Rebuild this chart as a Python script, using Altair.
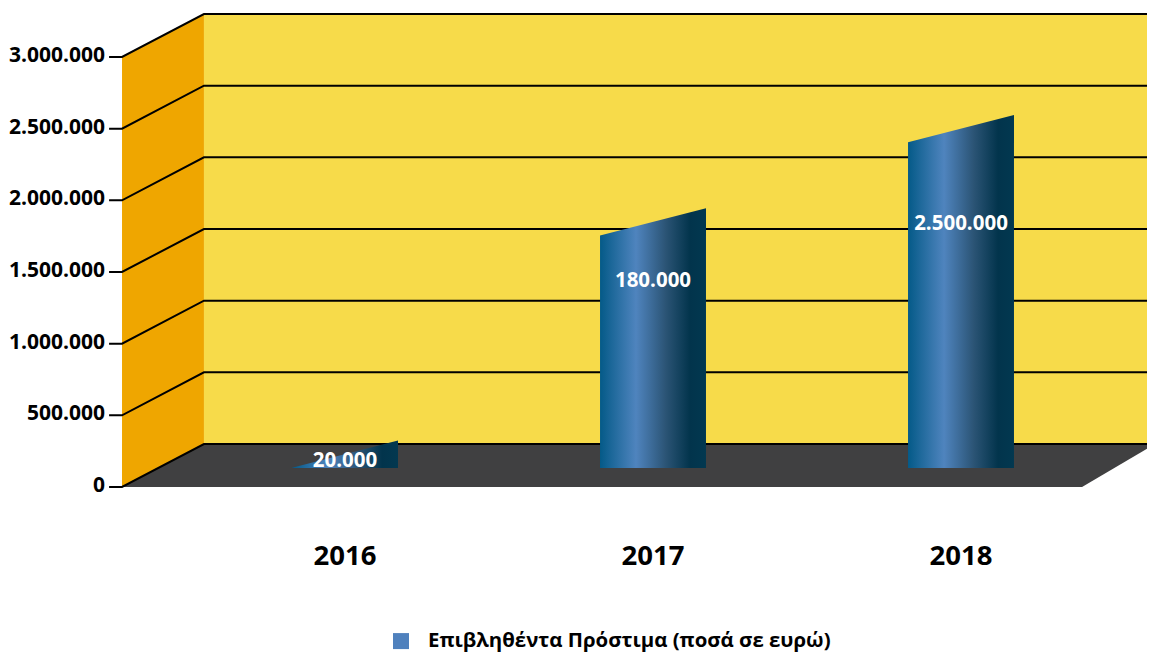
import altair as alt
import pandas as pd

# ---- chart values -------------------------------------------------------
years = ["2016", "2017", "2018"]
bar_heights = [230000, 1850000, 2500000]   # drawn heights
bar_labels = ["20.000", "180.000", "2.500.000"]
tick_values = [0, 500000, 1000000, 1500000, 2000000, 2500000, 3000000]
tick_labels = ["0", "500.000", "1.000.000", "1.500.000", "2.000.000", "2.500.000", "3.000.000"]
legend_label = "Επιβληθέντα Πρόστιμα (ποσά σε ευρώ)"

# ---- scene geometry, in data units (category index / euros) --------------
FRONT_L, BACK_L = -0.724, -0.458
FRONT_R, BACK_R = 2.393, 2.63
DEPTH = 300000
TOP = 3000000
BAR_HALF = 0.172
BAR_BASE = 132000
SLOPE = 95000
TICK_L = -0.766

W, H = 1139, 644
x_scale = alt.Scale(domain=[-1.0942, 2.6039], range=[0, W], nice=False, zero=False)
y_scale = alt.Scale(domain=[-1151163, 3341860], range=[H, 0], nice=False, zero=False)
X = lambda f="x": alt.X(f"{f}:Q", scale=x_scale, axis=None)
Y = lambda f="y": alt.Y(f"{f}:Q", scale=y_scale, axis=None)
FONT = "Open Sans"


def area(points, color):
    df = pd.DataFrame(points, columns=["x", "y", "y2"])
    return alt.Chart(df).mark_area(color=color, clip=True, interpolate="linear").encode(
        x=X(), y=Y(), y2=alt.Y2("y2:Q"))


back_wall = area([(BACK_L, DEPTH, DEPTH + TOP), (BACK_R, DEPTH, DEPTH + TOP)], "#F7DB4A")
left_wall = area([(FRONT_L, 0, TOP), (BACK_L, DEPTH, DEPTH + TOP)], "#EFA600")
floor = area([(FRONT_L, 0, 0), (BACK_L, DEPTH, 0), (FRONT_R, DEPTH, 0), (BACK_R, DEPTH, DEPTH)], "#404041")

grid_rows = []
for i, v in enumerate(tick_values):
    grid_rows += [
        {"g": i, "o": 0, "x": TICK_L, "y": v},
        {"g": i, "o": 1, "x": FRONT_L, "y": v},
        {"g": i, "o": 2, "x": BACK_L, "y": v + DEPTH},
        {"g": i, "o": 3, "x": BACK_R, "y": v + DEPTH},
    ]
grid = alt.Chart(pd.DataFrame(grid_rows)).mark_line(color="#000000", strokeWidth=2, clip=True).encode(
    x=X(), y=Y(), detail="g:N", order="o:Q")

gradient = alt.Gradient(
    gradient="linear", x1=0, y1=0, x2=1, y2=0,
    stops=[
        alt.GradientStop(offset=0, color="#045A88"),
        alt.GradientStop(offset=0.34, color="#4F84BE"),
        alt.GradientStop(offset=0.62, color="#2B5475"),
        alt.GradientStop(offset=0.85, color="#02344C"),
        alt.GradientStop(offset=1, color="#023850"),
    ],
)
bars = []
for i, h in enumerate(bar_heights):
    df = pd.DataFrame({
        "x": [i - BAR_HALF, i + BAR_HALF],
        "y": [h - SLOPE, h + SLOPE],
        "y2": [BAR_BASE, BAR_BASE],
    })
    bars.append(alt.Chart(df).mark_area(fill=gradient, interpolate="linear").encode(
        x=X(), y=Y(), y2=alt.Y2("y2:Q")))

tick_text = alt.Chart(pd.DataFrame({"x": [-0.779] * 7, "y": tick_values, "t": tick_labels})).mark_text(
    align="right", baseline="middle", font=FONT, fontWeight="bold", fontSize=21, color="#000000", dy=-1
).encode(x=X(), y=Y(), text="t:N")

value_text = alt.Chart(pd.DataFrame({
    "x": [0, 1, 2], "y": [182000, 1440000, 1838000], "t": bar_labels
})).mark_text(align="center", baseline="middle", font=FONT, fontWeight="bold", fontSize=20.5, color="#FFFFFF").encode(
    x=X(), y=Y(), text="t:N")

year_text = alt.Chart(pd.DataFrame({"x": [0, 1, 2], "y": [-488000] * 3, "t": years})).mark_text(
    align="center", baseline="middle", font=FONT, fontWeight="bold", fontSize=27.5, color="#000000"
).encode(x=X(), y=Y(), text="t:N")

legend_sym = alt.Chart(pd.DataFrame({"x": [0.1818], "y": [-1075000]})).mark_square(
    size=256, color="#4F81BD", opacity=1).encode(x=X(), y=Y())
legend_text = alt.Chart(pd.DataFrame({"x": [0.2695], "y": [-1075000], "t": [legend_label]})).mark_text(
    align="left", baseline="middle", font=FONT, fontWeight="bold", fontSize=20.4, color="#000000"
).encode(x=X(), y=Y(), text="t:N")

chart = alt.layer(
    back_wall, left_wall, floor, grid, *bars, tick_text, value_text, year_text, legend_sym, legend_text
).properties(
    width=W, height=H, padding=0, autosize=alt.AutoSizeParams(type="none")
).configure_view(stroke=None)

chart.save("out.html", embed_options={"renderer": "svg", "actions": False})
